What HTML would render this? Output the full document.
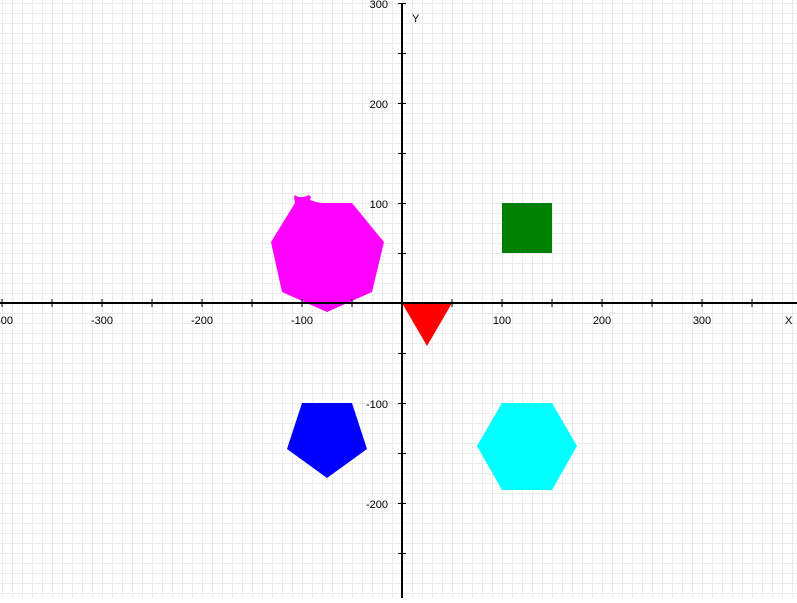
<!DOCTYPE html>
<html><head><meta charset="utf-8"><style>
body{margin:0;background:#fff;overflow:hidden}
svg text{font-family:"Liberation Sans",sans-serif;font-size:11px;fill:#000}
</style></head><body>
<svg id="c" width="797" height="598"></svg>
<script>
const shapeNames=["heptagon","square","triangle","pentagon","hexagon"];
const shapeColors=["#ff00ff","#008000","#ff0000","#0000ff","#00ffff"];
const heptX=[-107,-50,-18,-30,-75,-120,-131];
const heptY=[100,100,61,11,-9,11,61];
const squareX=[100,150,150,100];
const squareY=[100,100,50,50];
const triX=[0,50,25];
const triY=[0,0,-43];
const pentX=[-100,-50,-35,-75,-115];
const pentY=[-100,-100,-146,-175,-146];
const hexX=[100,150,175,150,100,75];
const hexY=[-100,-100,-143,-187,-187,-143];
const blobX=[-107,-108,-107,-104,-98,-93,-91,-92,-86,-80];
const blobY=[100,106,108,106,106,108,106,103,101,100];
const xTicks=[-400,-300,-200,-100,100,200,300];
const yTicks=[300,200,100,-100,-200];
const NS="http://www.w3.org/2000/svg";
const svg=document.getElementById('c');
const ox=402,oy=303;
const sx=v=>ox+v, sy=v=>oy-v;
function mk(t,a){const e=document.createElementNS(NS,t);for(const k in a)e.setAttribute(k,a[k]);svg.appendChild(e);return e;}
for(let px=ox%10;px<797;px+=10){const l=mk('line',{x1:px+.5,y1:0,x2:px+.5,y2:598,stroke:'#ebebeb','stroke-width':1});

}
for(let py=oy%10;py<598;py+=10){const l=mk('line',{x1:0,y1:py+.5,x2:797,y2:py+.5,stroke:'#ebebeb','stroke-width':1});

}
function poly(xs,ys,col,name){const p=mk('polygon',{points:xs.map((x,i)=>sx(x)+','+sy(ys[i])).join(' '),fill:col});

}
poly(blobX,blobY,shapeColors[0],'heptagon-blob');
poly(heptX,heptY,shapeColors[0],'heptagon-shape');
poly(squareX,squareY,shapeColors[1],'square-shape');
poly(triX,triY,shapeColors[2],'triangle-shape');
poly(pentX,pentY,shapeColors[3],'pentagon-shape');
poly(hexX,hexY,shapeColors[4],'hexagon-shape');
const xa=mk('line',{x1:0,y1:oy,x2:797,y2:oy,stroke:'#000','stroke-width':2});


const ya=mk('line',{x1:ox,y1:4,x2:ox,y2:598,stroke:'#000','stroke-width':2});


for(let v=-400;v<=400;v+=50){if(!v)continue;const t=mk('line',{x1:sx(v),y1:oy-4,x2:sx(v),y2:oy+4,stroke:'#000','stroke-width':1});

}
for(let v=-300;v<=300;v+=50){if(!v)continue;const t=mk('line',{x1:ox-4,y1:sy(v)+.5,x2:ox+4,y2:sy(v)+.5,stroke:'#000','stroke-width':1});

}
xTicks.forEach(v=>{const t=mk('text',{x:sx(v),y:oy+21,'text-anchor':'middle'});t.textContent=v;

});
yTicks.forEach(v=>{const t=mk('text',{x:ox-14,y:sy(v)+5,'text-anchor':'end'});t.textContent=v;

});
const xl=mk('text',{x:785,y:oy+21});xl.textContent='X';


const yl=mk('text',{x:412,y:22});yl.textContent='Y';


</script>
</body></html>
